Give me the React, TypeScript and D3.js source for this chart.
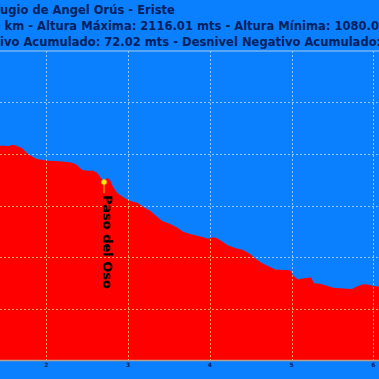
import React from 'react';
import * as d3 from 'd3';

// Profile: distance (km) and altitude (m)
const DIST_KM = [
  0.0, 0.4, 0.8, 1.1, 1.3,
  1.434, 1.495, 1.531, 1.593, 1.642, 1.703, 1.764, 1.825, 1.886, 1.96, 2.008, 2.106, 2.228, 2.314, 2.375,
  2.437, 2.51, 2.571, 2.62, 2.657, 2.706, 2.743, 2.779, 2.816, 2.865, 2.902, 2.963, 3.024, 3.11, 3.183,
  3.269, 3.355, 3.416, 3.514, 3.599, 3.673, 3.758, 3.844, 3.917, 3.978, 4.039, 4.088, 4.15, 4.223, 4.309,
  4.407, 4.492, 4.565, 4.639, 4.712, 4.798, 4.896, 4.981, 5.018, 5.079, 5.152, 5.238, 5.275, 5.348, 5.434,
  5.507, 5.63, 5.739, 5.8, 5.874, 5.935, 5.997, 6.07,
  6.4, 6.8, 7.1,
];
const ALT_M = [
  2116.01, 2060, 1975, 1905, 1860,
  1832, 1832, 1830, 1836, 1831, 1822, 1803, 1790, 1781, 1777, 1774, 1773, 1770, 1766, 1757,
  1738, 1735, 1735, 1727, 1712, 1691, 1708, 1699, 1673, 1650, 1641, 1628, 1617, 1611, 1595,
  1580, 1556, 1540, 1528, 1515, 1498, 1489, 1483, 1477, 1471, 1477, 1473, 1460, 1445, 1435,
  1427, 1412, 1392, 1376, 1365, 1351, 1350, 1350, 1328, 1313, 1317, 1320, 1298, 1296, 1288,
  1281, 1278, 1276, 1285, 1294, 1293, 1287, 1285,
  1215, 1140, 1080.0,
];
const X_TICKS = [1, 2, 3, 4, 5, 6, 7];
const Y_TICKS = [1200, 1400, 1600, 1800, 2000];
const WAYPOINT_KM = 2.706;
const WAYPOINT_ALT = 1691;
const WAYPOINT_NAME = 'Paso del Oso';

// Title lines split as [hidden prefix, visible part]
const TITLE_1 = ['Ref', 'ugio de Angel Orús - Eriste'];
const TITLE_2 = ['Distancia: 7.10 ', 'km - Altura Máxima: 2116.01 mts - Altura Mínima: 1080.00 mts'];
const TITLE_3 = ['Desnivel Posit', 'ivo Acumulado: 72.02 mts - Desnivel Negativo Acumulado: 1108.03 mts'];

export default function App() {
  const W = 379;
  const H = 379;
  const BLUE = '#0a80fe';
  const RED = '#ff0000';
  const x = d3.scaleLinear().domain([2, 6]).range([46.3, 373.3]);
  const y = d3.scaleLinear().domain([1000, 2200]).range([360, 51]);
  const data: [number, number][] = DIST_KM.map((d, i) => [d, ALT_M[i]]);
  const areaPath = d3
    .area<[number, number]>()
    .x((d) => x(d[0]))
    .y0(y(1000))
    .y1((d) => y(d[1]))(data) as string;

  const titleFont = {
    fontFamily: 'DejaVu Sans, Verdana, sans-serif',
    fontWeight: 700,
    fontSize: 11.55,
    fill: '#00205e',
  } as const;

  const titleLine = (parts: string[], tx: number, ty: number) => (
    <text y={ty} style={titleFont}>
      <tspan x={tx} textAnchor="end">{parts[0]}</tspan>
      <tspan x={tx} textAnchor="start">{parts[1]}</tspan>
    </text>
  );

  const grid = (color: string) => (
    <g stroke={color} strokeWidth={1} strokeDasharray="2,2" fill="none">
      {Y_TICKS.map((t) => (
        <line key={'h' + t} x1={-200} x2={W + 10} y1={Math.round(y(t)) + 0.5} y2={Math.round(y(t)) + 0.5} />
      ))}
      {X_TICKS.map((t) => (
        <line key={'v' + t} x1={Math.round(x(t)) + 0.5} x2={Math.round(x(t)) + 0.5} y1={y(2200)} y2={y(1000)} />
      ))}
    </g>
  );

  const wx = x(WAYPOINT_KM);
  const wy = y(WAYPOINT_ALT);

  return (
    <svg
      width={W}
      height={H}
      style={{ position: 'absolute', left: 0, top: 0, display: 'block', overflow: 'hidden' }}
    >
      <defs>
        <clipPath id="areaClip">
          <path d={areaPath} />
        </clipPath>
      </defs>
      <rect x={0} y={0} width={W} height={H} fill={BLUE} />
      {titleLine(TITLE_1, 0, 13.5)}
      {titleLine(TITLE_2, 4.5, 29.5)}
      {titleLine(TITLE_3, 0, 45.5)}
      {grid('#8fc8ff')}
      <path d={areaPath} fill={RED} />
      <g clipPath="url(#areaClip)">{grid('#ffa84d')}</g>
      <line x1={-200} x2={W + 10} y1={y(2200)} y2={y(2200)} stroke="#a9cdee" strokeWidth={1} />
      <line x1={-200} x2={W + 10} y1={y(1000) + 0.5} y2={y(1000) + 0.5} stroke="#b9a08c" strokeWidth={1.5} />
      <g style={{ fontFamily: 'DejaVu Sans, sans-serif', fontWeight: 700, fontSize: 6 }} fill="#00205e">
        {X_TICKS.map((t) => (
          <text key={t} x={x(t)} y={367} textAnchor="middle">
            {t}
          </text>
        ))}
      </g>
      <line x1={wx} x2={wx} y1={wy} y2={wy + 11} stroke="#ffd000" strokeWidth={1} />
      <circle cx={wx} cy={wy} r={2.6} fill="#ffee00" stroke="#ffb000" strokeWidth={0.6} />
      <text
        transform={`translate(${wx - 1.5},${wy + 13}) rotate(90)`}
        style={{ fontFamily: 'DejaVu Sans, sans-serif', fontWeight: 700, fontSize: 13 }}
        fill="#000000"
      >
        {WAYPOINT_NAME}
      </text>
    </svg>
  );
}
